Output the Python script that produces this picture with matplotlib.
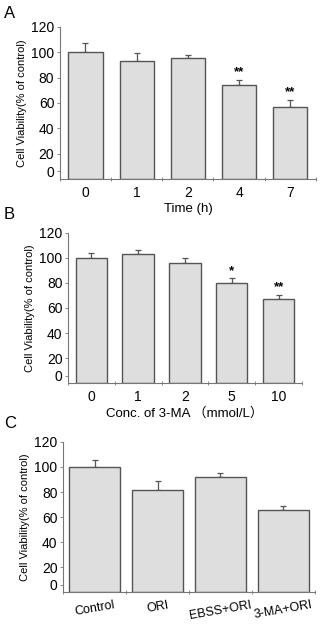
import numpy as np
import matplotlib.pyplot as plt

plt.rcParams['font.family'] = ['Liberation Sans', 'Noto Sans CJK SC', 'DejaVu Sans']

# panel A
time_labels = ['0', '1', '2', '4', '7']
time_vals = [100, 93.4, 95.5, 74.5, 56.7]
time_err = [7, 6, 2, 3.7, 6]
time_stars = ['', '', '', '**', '**']

# panel B
conc_labels = ['0', '1', '2', '5', '10']
conc_vals = [100, 103, 96, 80, 67.5]
conc_err = [4, 3, 4, 4, 3]
conc_stars = ['', '', '', '*', '**']

# panel C
group_labels = ['Control', 'ORI', 'EBSS+ORI', '3-MA+ORI']
group_vals = [100, 82, 92, 66]
group_err = [5.6, 7, 3, 3]

bar_face = '#dedede'
bar_edge = '#555555'
axis_col = '#777777'

fig = plt.figure(figsize=(3.22, 6.26), dpi=100)


def panel(rect, labels, vals, err, width, xlabel=None, stars=None, rot=0):
    ax = fig.add_axes(rect)
    x = np.arange(len(vals))
    ax.bar(x, vals, width=width, color=bar_face, edgecolor=bar_edge, linewidth=1.0, zorder=2)
    ax.errorbar(x, vals, yerr=[np.zeros(len(vals)), err], fmt='none',
                ecolor=bar_edge, elinewidth=0.9, capsize=2.5, capthick=0.9, zorder=1)
    ax.set_xlim(-0.5, len(vals) - 0.5)
    ax.set_ylim(0, 120)
    # the "0" label sits a little above the baseline in the original figure
    ax.set_yticks([6, 20, 40, 60, 80, 100, 120])
    ax.set_yticklabels(['0', '20', '40', '60', '80', '100', '120'], fontsize=10)
    ax.set_xticks(x)
    ax.set_xticklabels(labels, fontsize=10, rotation=rot)
    ax.set_xticks(np.arange(len(vals) + 1) - 0.5, minor=True)
    ax.tick_params(axis='x', which='major', length=0, pad=5)
    ax.tick_params(axis='x', which='minor', length=3, direction='inout', color=axis_col, width=0.6)
    ax.tick_params(axis='y', length=2, color=axis_col, width=0.6, pad=2)
    for s in ['top', 'right']:
        ax.spines[s].set_visible(False)
    for s in ['left', 'bottom']:
        ax.spines[s].set_color(axis_col)
        ax.spines[s].set_linewidth(0.8)
    ax.set_ylabel('Cell Viability(% of control)', fontsize=8, labelpad=3)
    if xlabel:
        ax.set_xlabel(xlabel, fontsize=9.5, labelpad=2)
    if stars:
        for xi, v, e, s in zip(x, vals, err, stars):
            if s:
                ax.text(xi, v + e + 1, s, ha='center', va='bottom', fontsize=9.5, fontweight='bold')
    return ax


panel([0.186, 0.714, 0.795, 0.243], time_labels, time_vals, time_err, 0.67,
      xlabel='Time (h)', stars=time_stars)
panel([0.211, 0.388, 0.727, 0.240], conc_labels, conc_vals, conc_err, 0.67,
      xlabel='Conc. of 3-MA （mmol/L）', stars=conc_stars)
axc = panel([0.196, 0.054, 0.782, 0.240], group_labels, group_vals, group_err, 0.82, rot=10)
for t in axc.get_xticklabels():
    t.set_fontsize(9)

fig.text(0.012, 0.99, 'A', fontsize=12, va='top')
fig.text(0.012, 0.67, 'B', fontsize=12, va='top')
fig.text(0.012, 0.335, 'C', fontsize=12, va='top')

fig.savefig('out.png', dpi=100)
